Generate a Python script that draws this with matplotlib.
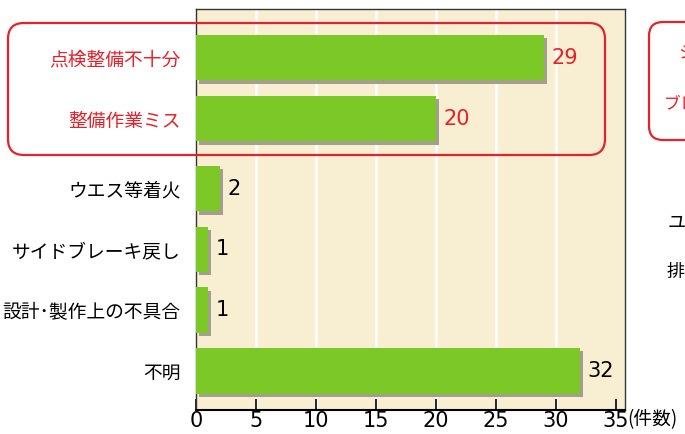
import matplotlib
matplotlib.use('Agg')
import matplotlib.pyplot as plt
import matplotlib.patheffects as pe
from matplotlib.patches import FancyBboxPatch

plt.rcParams['font.family'] = ['Noto Sans CJK JP', 'DejaVu Sans']

# data
causes = ['点検整備不十分', '整備作業ミス', 'ウエス等着火', 'サイドブレーキ戻し',
          '設計･製作上の不具合', '不明']
counts = [29, 20, 2, 1, 1, 32]
highlighted = [True, True, False, False, False, False]
xticks = [0, 5, 10, 15, 20, 25, 30, 35]

GREEN = '#7cc826'
SHADOW = '#a29f8c'
BG = '#f8eed2'
RED = '#e5222b'

W, H = 685, 434
fig = plt.figure(figsize=(W / 100, H / 100), dpi=100)
fig.patch.set_facecolor('white')

# axes placed in pixels
left, right, top, bottom = 196, 625, 9, 410
ax = fig.add_axes([left / W, (H - bottom) / H, (right - left) / W, (bottom - top) / H])
ax.set_facecolor(BG)

# extra gap after highlighted group
ypos = []
y = 0.0
for i, h in enumerate(highlighted):
    if i > 0 and highlighted[i - 1] and not h:
        y += 0.15
    ypos.append(y)
    y += 1

for xv in xticks[1:-1]:
    ax.axvline(xv, color='white', lw=1.8, zorder=1)

bars = ax.barh(ypos, counts, height=0.75, color=GREEN, zorder=3,
               path_effects=[pe.SimplePatchShadow(offset=(2.3, -2.3), shadow_rgbFace=SHADOW, alpha=1),
                             pe.Normal()])

for yv, c, h in zip(ypos, counts, highlighted):
    ax.text(c + 0.65, yv, str(c), va='center', ha='left', fontsize=15,
            family='DejaVu Sans', color=RED if h else 'black', zorder=4)

ax.set_xlim(0, 35.75)
ax.set_ylim(5.79, -0.80)
ax.set_xticks(xticks)
ax.set_xticklabels([str(v) for v in xticks], family='DejaVu Sans', fontsize=15)
ax.tick_params(axis='x', direction='in', length=8, width=1.2, pad=1, colors='black')
ax.set_yticks(ypos)
ax.set_yticklabels(causes, fontsize=13.5)
ax.tick_params(axis='y', length=0, pad=11)
for lbl, h in zip(ax.get_yticklabels(), highlighted):
    lbl.set_color(RED if h else 'black')

for s in ['top', 'right', 'left']:
    ax.spines[s].set_color('#333333')
    ax.spines[s].set_linewidth(1.0)
ax.spines['bottom'].set_linewidth(1.5)

fig.text(627 / W, (H - 420) / H, '(件数)', fontsize=13.5, va='center', ha='left')

# overlay in pixel coords for the red frames and the cut-off neighbour panel
ov = fig.add_axes([0, 0, 1, 1], zorder=5)
ov.set_xlim(0, W)
ov.set_ylim(H, 0)
ov.axis('off')
ov.patch.set_alpha(0)

ov.add_patch(FancyBboxPatch((8, 23), 597, 132, boxstyle='round,pad=0,rounding_size=16',
                            fill=False, ec=RED, lw=1.6))
ov.add_patch(FancyBboxPatch((649, 22), 80, 118, boxstyle='round,pad=0,rounding_size=14',
                            fill=False, ec=RED, lw=1.6, clip_on=False))
ov.text(678, 54, 'シ', color=RED, fontsize=12, va='center', ha='left')
ov.text(664, 104, 'ブレ', color=RED, fontsize=12, va='center', ha='left')
ov.text(668, 223, 'ユ', color='black', fontsize=13, va='center', ha='left')
ov.text(667, 272, '排', color='black', fontsize=13, va='center', ha='left')

fig.savefig('out.png', dpi=100)
